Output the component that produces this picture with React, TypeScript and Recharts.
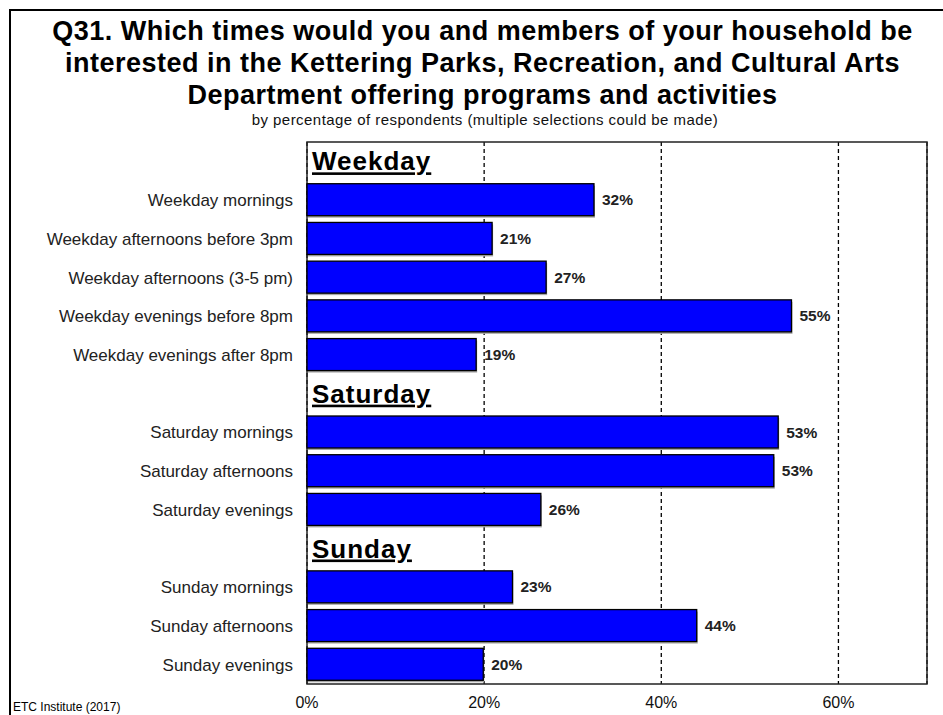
import { Bar, BarChart, CartesianGrid, LabelList, ReferenceArea, XAxis, YAxis } from "recharts";

const categories = [
  "Weekday",
  "Weekday mornings",
  "Weekday afternoons before 3pm",
  "Weekday afternoons (3-5 pm)",
  "Weekday evenings before 8pm",
  "Weekday evenings after 8pm",
  "Saturday",
  "Saturday mornings",
  "Saturday afternoons",
  "Saturday evenings",
  "Sunday",
  "Sunday mornings",
  "Sunday afternoons",
  "Sunday evenings",
];
const headers = ["Weekday", "Saturday", "Sunday"];
const values: (number | null)[] = [null, 32.4, 20.9, 27.0, 54.7, 19.1, null, 53.2, 52.7, 26.4, null, 23.2, 44.0, 19.9];
const valueLabels = ["", "32%", "21%", "27%", "55%", "19%", "", "53%", "53%", "26%", "", "23%", "44%", "20%"];
const xTicks = [0, 20, 40, 60];

const data = categories.map((name, i) => ({ name, value: values[i], label: valueLabels[i] }));

const FONT = "Arial, 'Liberation Sans', sans-serif";
const PLOT_LEFT = 307;

function ShadowBar(props: any) {
  const { x, y, width, height } = props;
  if (!width || width <= 0) return null;
  return (
    <g>
      <rect x={x + 1} y={y + 2} width={width} height={height} fill="#a8a8a8" />
      <rect x={x} y={y} width={width} height={height} fill="#0000ff" stroke="#000" strokeWidth={1.3} />
    </g>
  );
}

function CatTick(props: any) {
  const { y, payload } = props;
  const v = payload.value as string;
  if (headers.includes(v)) {
    return (
      <text
        x={PLOT_LEFT + 5}
        y={y}
        dy={9}
        fontFamily={FONT}
        fontWeight="bold"
        fontSize={26}
        letterSpacing={1}
        fill="#000"
        textDecoration="underline"
      >
        {v}
      </text>
    );
  }
  return (
    <text x={293} y={y} dy={6} textAnchor="end" fontFamily={FONT} fontSize={17} fill="#222">
      {v}
    </text>
  );
}

export default function App() {
  return (
    <div style={{ position: "absolute", left: 0, top: 0, width: 943, height: 715, background: "#fff", overflow: "hidden", fontFamily: FONT }}>
      <div style={{ position: "absolute", left: 9, top: 9, width: 960, height: 720, borderLeft: "2px solid #000", borderTop: "2px solid #000" }} />
      <div style={{ position: "absolute", left: 0, top: 15, width: 965, textAlign: "center", fontWeight: "bold", fontSize: 27, letterSpacing: 0.5, lineHeight: "32px", color: "#000" }}>
        <div>Q31. Which times would you and members of your household be</div>
        <div>interested in the Kettering Parks, Recreation, and Cultural Arts</div>
        <div>Department offering programs and activities</div>
      </div>
      <div style={{ position: "absolute", left: 0, top: 111, width: 970, textAlign: "center", fontSize: 15, letterSpacing: 0.45, color: "#111" }}>
        by percentage of respondents (multiple selections could be made)
      </div>
      <div style={{ position: "absolute", left: 13, top: 700, fontSize: 12, lineHeight: "14px", color: "#000" }}>ETC Institute (2017)</div>
      <div style={{ position: "absolute", left: 0, top: 0 }}>
        <BarChart
          width={943}
          height={715}
          data={data}
          layout="vertical"
          margin={{ top: 142, right: 16, bottom: 0, left: 0 }}
          barSize={32}
        >
          <CartesianGrid horizontal={false} stroke="#000" strokeWidth={1.3} strokeDasharray="4 3" />
          <XAxis
            type="number"
            domain={[0, 70]}
            ticks={xTicks}
            tickFormatter={(v: number) => `${v}%`}
            tickLine={false}
            axisLine={false}
            height={31}
            tickMargin={7}
            tick={{ fontSize: 16, fill: "#111", fontFamily: FONT }}
          />
          <YAxis
            type="category"
            dataKey="name"
            width={PLOT_LEFT}
            interval={0}
            tickLine={false}
            axisLine={false}
            tick={<CatTick />}
          />
          <ReferenceArea x1={0} x2={70} fill="none" stroke="#222" strokeWidth={1.5} ifOverflow="extendDomain" />
          <Bar dataKey="value" shape={<ShadowBar />} isAnimationActive={false}>
            <LabelList
              dataKey="label"
              position="right"
              offset={8}
              style={{ fontSize: 15.5, fontWeight: "bold", fill: "#222", fontFamily: FONT }}
            />
          </Bar>
        </BarChart>
      </div>
    </div>
  );
}
